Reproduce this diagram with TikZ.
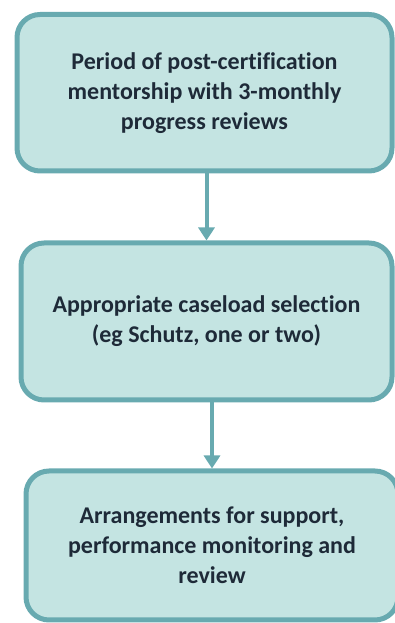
\documentclass[tikz,border=0pt]{standalone}
\usepackage{tikz,fontspec}
\usetikzlibrary{arrows.meta}
\setmainfont[Ligatures=NoCommon]{Carlito}
\definecolor{boxfill}{HTML}{C4E4E2}
\definecolor{boxline}{HTML}{68AAB0}
\definecolor{boxtext}{HTML}{1E2A38}

\begin{document}
\begin{tikzpicture}[x=1pt,y=1pt,
	stage/.style={draw=boxline,fill=boxfill,line width=5pt,rounded corners=23pt,align=center,text=boxtext,font=\bfseries\fontsize{24}{30}\selectfont,inner sep=0pt},
	link/.style={draw=boxline,line width=4pt,-{Triangle[width=16pt,length=13pt]}}]
	\useasboundingbox (0,0) rectangle (395,623);
	\node[stage,minimum width=375pt,minimum height=156.5pt] (mentor) at (204.5,530.25) {Period of post-certification\\mentorship with 3-monthly\\progress reviews};
	\node[stage,minimum width=371pt,minimum height=157pt] (caseload) at (206.5,301.5) {Appropriate caseload selection\\(eg Schutz, one or two)};
	\node[stage,minimum width=372pt,minimum height=149pt] (support) at (212,77.5) {Arrangements for support,\\performance monitoring and\\review};
	\draw[link] (mentor.south -| caseload) -- (caseload.north);
	\draw[link] (caseload.south -| support) -- (support.north);
\end{tikzpicture}
\end{document}
